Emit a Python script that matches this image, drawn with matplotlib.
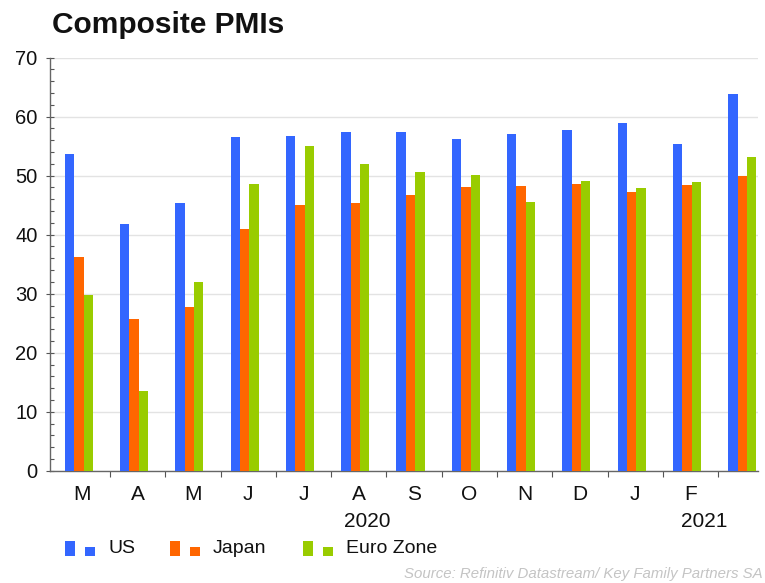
import matplotlib
matplotlib.use("Agg")
import matplotlib.pyplot as plt
from matplotlib.patches import Rectangle
from matplotlib.ticker import MultipleLocator, FixedLocator, NullFormatter
import numpy as np

plt.rcParams["font.family"] = ["Liberation Sans", "DejaVu Sans"]

# Monthly composite PMI readings, March 2020 to March 2021
months = ["M", "A", "M", "J", "J", "A", "S", "O", "N", "D", "J", "F", ""]
us = [53.7, 41.8, 45.4, 56.5, 56.7, 57.4, 57.4, 56.3, 57.1, 57.7, 58.9, 55.4, 63.8]
japan = [36.3, 25.7, 27.8, 40.9, 45.0, 45.3, 46.7, 48.1, 48.3, 48.6, 47.2, 48.4, 50.0]
euro = [29.8, 13.5, 32.0, 48.6, 55.1, 52.0, 50.6, 50.1, 45.5, 49.1, 47.9, 48.9, 53.2]
years = [("2020", 5.15), ("2021", 11.24)]

series = [("US", us, "#3366ff"), ("Japan", japan, "#ff6600"), ("Euro Zone", euro, "#99cc00")]

W, H = 765, 583
fig = plt.figure(figsize=(W / 100, H / 100), dpi=100)
ax = fig.add_axes([50 / W, 1 - 470.7 / H, (758 - 50) / W, (470.7 - 57.7) / H])

x = np.arange(len(months))
bw = 0.17
start = -0.32
for k, (name, vals, col) in enumerate(series):
    ax.bar(x + start + bw * (k + 0.5), vals, width=bw, color=col, linewidth=0, zorder=3)

ax.set_xlim(-0.586, 12.22)
ax.set_ylim(0, 70)

# y axis: majors every 10 with gridlines, minors every 2
ax.yaxis.set_major_locator(MultipleLocator(10))
ax.yaxis.set_minor_locator(MultipleLocator(2))
ax.grid(axis="y", which="major", color="#e3e3e3", linewidth=1.0, zorder=0)
ax.tick_params(axis="y", which="major", direction="inout", length=6, width=0.8,
               color="#555555", labelsize=14.5, pad=6, labelcolor="#111111")
ax.tick_params(axis="y", which="minor", direction="in", length=3, width=0.8, color="#555555")

# x axis: month labels centred, separator ticks between months
ax.xaxis.set_major_locator(FixedLocator(x))
ax.set_xticklabels(months)
ax.xaxis.set_minor_locator(FixedLocator(x[:-1] + 0.5))
ax.xaxis.set_minor_formatter(NullFormatter())
ax.tick_params(axis="x", which="major", length=0, labelsize=15, pad=10, labelcolor="#111111")
ax.tick_params(axis="x", which="minor", direction="out", length=4, width=0.8, color="#555555")

for s in ("top", "right"):
    ax.spines[s].set_visible(False)
for s in ("left", "bottom"):
    ax.spines[s].set_color("#666666")
    ax.spines[s].set_linewidth(1.0)

for label, xpos in years:
    ax.text(xpos, -0.123, label, transform=ax.get_xaxis_transform(),
            ha="center", va="center", fontsize=15, color="#111111")

fig.text(52 / W, 1 - 25 / H, "Composite PMIs", fontsize=21.5, fontweight="bold",
         ha="left", va="center", color="#111111")


def px(xp, yp):
    return xp / W, 1 - yp / H


# legend: each entry shows a tall and a short swatch
legend_x = [65, 170, 303]
for (name, vals, col), lx in zip(series, legend_x):
    fig.add_artist(Rectangle(px(lx, 556), 10 / W, 15 / H, transform=fig.transFigure,
                             color=col, linewidth=0))
    fig.add_artist(Rectangle(px(lx + 20, 556), 10 / W, 9 / H, transform=fig.transFigure,
                             color=col, linewidth=0))
    fig.text(*px(lx + 43, 548.5), name, fontsize=14, ha="left", va="center", color="#111111")

fig.text(*px(763, 574), "Source: Refinitiv Datastream/ Key Family Partners SA",
         fontsize=10.8, style="italic", ha="right", va="center", color="#c4c4c4")

fig.savefig("out.png", dpi=100)
